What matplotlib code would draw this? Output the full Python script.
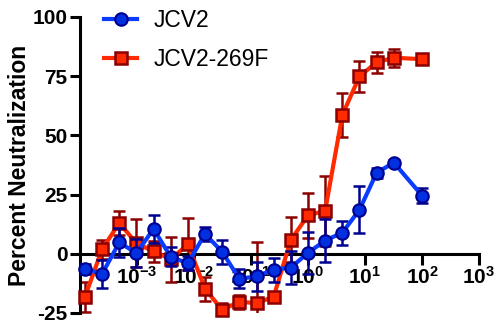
import numpy as np
import matplotlib
matplotlib.use('Agg')
import matplotlib.pyplot as plt

# 2-fold dilution series + top concentration
conc = [2.0**k for k in range(-13, 6)] + [100]

# JCV2
jcv2 = [-6.4, -8.5, 4.8, 0.3, 10.5, -1.3, -4.0, 8.4, 0.8, -10.6,
        -9.5, -6.7, -5.8, 0.4, 5.6, 8.9, 18.6, 34.2, 38.5, 24.6]
jcv2_err = [2, 6, 6, 6, 6, 4, 3, 3, 5, 4,
            6, 5, 7, 9, 9, 5, 10, 2, 1, 3]

# JCV2-269F
jcv2_269f = [-18.2, 1.9, 13.0, 4.5, 1.0, -2.3, 4.0, -14.8, -23.7, -20.2,
             -20.9, -18.1, 5.9, 16.2, 18.2, 58.6, 74.9, 80.9, 82.8, 82.2]
jcv2_269f_err = [6.5, 4, 5, 10, 4.5, 9.5, 11, 5, 3, 3,
                 26, 2, 9.5, 9.6, 14.8, 9.2, 6.4, 4.5, 3.8, 0.5]

xticks = [1e-3, 1e-2, 1e-1, 1e0, 1e1, 1e2, 1e3]
xticklabels = [r'$\mathbf{10^{-3}}$', r'$\mathbf{10^{-2}}$', r'$\mathbf{10^{-1}}$',
               r'$\mathbf{10^{0}}$', r'$\mathbf{10^{1}}$', r'$\mathbf{10^{2}}$',
               r'$\mathbf{10^{3}}$']
yticks = [-25, 0, 25, 50, 75, 100]

plt.rcParams['font.family'] = ['Liberation Sans', 'DejaVu Sans']
plt.rcParams['mathtext.fontset'] = 'custom'
plt.rcParams['mathtext.rm'] = 'Liberation Sans:bold'
plt.rcParams['mathtext.bf'] = 'Liberation Sans:bold'
plt.rcParams['axes.unicode_minus'] = False

fig = plt.figure(figsize=(4.98, 3.24), dpi=100)
ax = fig.add_axes([80/498, 1-313/324, (479-80)/498, (313-17)/324])

red_line = '#ff2a00'
red_dark = '#8b0000'
blue_line = '#0a3cff'
blue_fill = '#0030e0'
blue_dark = '#000090'

# red series first (blue sits on top)
ax.errorbar(conc, jcv2_269f, yerr=jcv2_269f_err, fmt='none', ecolor=red_dark,
            elinewidth=1.8, capsize=4, capthick=1.8, zorder=2)
ax.plot(conc, jcv2_269f, color=red_line, lw=3, marker='s', ms=9,
        mfc=red_line, mec=red_dark, mew=1.8, label='JCV2-269F',
        clip_on=False, zorder=3)

ax.errorbar(conc, jcv2, yerr=jcv2_err, fmt='none', ecolor=blue_dark,
            elinewidth=1.8, capsize=4, capthick=1.8, zorder=4)
ax.plot(conc, jcv2, color=blue_line, lw=3, marker='o', ms=9,
        mfc=blue_fill, mec=blue_dark, mew=1.5, label='JCV2',
        clip_on=False, zorder=5)

ax.set_xscale('log')
ax.set_xlim(1e-4, 1e3)
ax.set_ylim(-25, 100)
ax.set_xticks(xticks)
ax.set_xticklabels(xticklabels)
ax.minorticks_off()
ax.set_yticks(yticks)
ax.set_yticklabels([str(v) for v in yticks], fontweight='bold')

ax.spines['top'].set_visible(False)
ax.spines['right'].set_visible(False)
ax.spines['bottom'].set_position(('data', 0))
for s in ['left', 'bottom']:
    ax.spines[s].set_linewidth(2.2)
ax.tick_params(axis='both', width=2.2, length=7, labelsize=15, pad=2)
ax.tick_params(axis='x', length=8, pad=1)

ax.set_ylabel('Percent Neutralization', fontsize=16.5, fontweight='bold', labelpad=1)

handles, labels = ax.get_legend_handles_labels()
fig.legend(handles[::-1], labels[::-1], loc='upper left',
           bbox_to_anchor=(104/498, 1-9/324), frameon=False, fontsize=16.5,
           handlelength=1.45, handletextpad=0.7, labelspacing=0.72,
           borderpad=0, borderaxespad=0, numpoints=1)

fig.savefig('out.png', dpi=100)
